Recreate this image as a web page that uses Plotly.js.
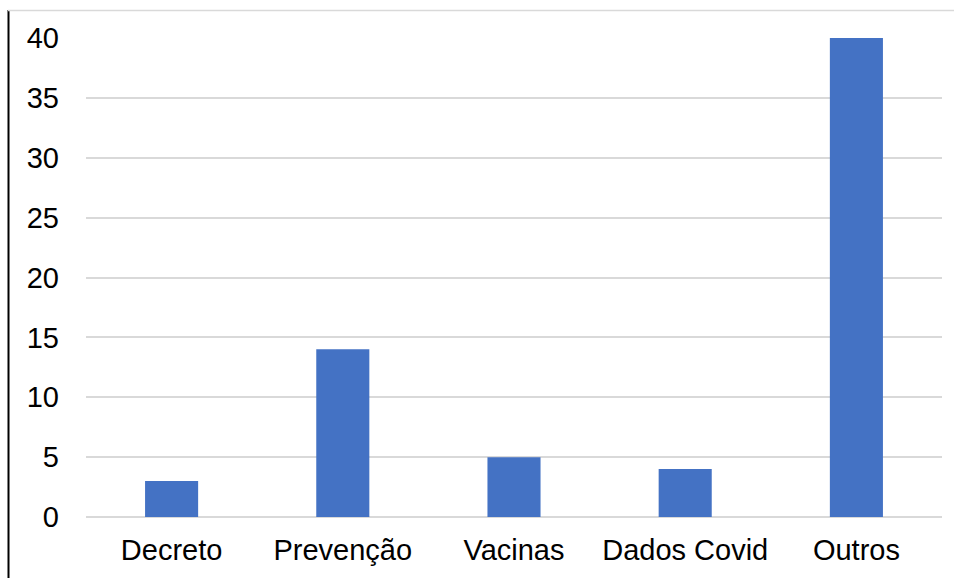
<!DOCTYPE html>
<html>
<head>
<meta charset="utf-8">
<script src="https://cdn.plot.ly/plotly-3.0.1.min.js"></script>
<style>html,body{margin:0;padding:0;background:#fff;}#chart{width:954px;height:578px;}</style>
</head>
<body>
<div id="chart"></div>
<script>
const categories = ["Decreto", "Prevenção", "Vacinas", "Dados Covid", "Outros"];
const values = [3, 14, 5, 4, 40];
const yTicks = [0, 5, 10, 15, 20, 25, 30, 35, 40];

const W = 954, H = 578;
const margin = {l: 86, r: 12, t: 38, b: 61, pad: 0};
const pw = W - margin.l - margin.r, ph = H - margin.t - margin.b;
const px = x => (x - margin.l) / pw;
const py = y => (H - margin.b - y) / ph;

const trace = {
  type: 'bar',
  x: categories,
  y: values,
  marker: {color: '#4472C4'},
  hoverinfo: 'none'
};

const layout = {
  width: W, height: H,
  margin: margin,
  paper_bgcolor: '#fff', plot_bgcolor: '#fff',
  font: {family: 'Liberation Sans, Arial, sans-serif', size: 29, color: '#000'},
  bargap: 0.69,
  showlegend: false,
  xaxis: {
    type: 'category',
    showgrid: false, showline: false, zeroline: false,
    ticks: '', ticklabelstandoff: 13,
    tickfont: {size: 29, color: '#000'}
  },
  yaxis: {
    range: [0, 40],
    tickvals: yTicks,
    ticktext: yTicks.map(String),
    showgrid: true, gridcolor: '#d9d9d9', gridwidth: 2,
    zeroline: true, zerolinecolor: '#d9d9d9', zerolinewidth: 2,
    showline: false, ticks: '', ticklabelstandoff: 26,
    tickfont: {size: 29, color: '#000'}
  },
  shapes: [
    {type: 'line', xref: 'paper', yref: 'paper', x0: px(8.5), x1: px(8.5), y0: py(10), y1: py(578), line: {color: '#000', width: 2}},
    {type: 'line', xref: 'paper', yref: 'paper', x0: px(8), x1: px(954), y0: py(10.5), y1: py(10.5), line: {color: '#d9d9d9', width: 1.5}}
  ]
};

Plotly.newPlot('chart', [trace], layout, {staticPlot: true, displayModeBar: false});
</script>
</body>
</html>
